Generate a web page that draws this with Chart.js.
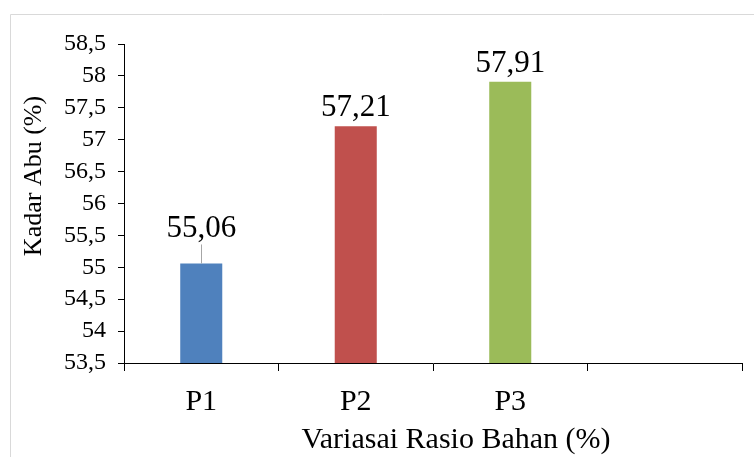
<!DOCTYPE html>
<html>
<head>
<meta charset="utf-8">
<script src="https://cdn.jsdelivr.net/npm/chart.js@4/dist/chart.umd.min.js"></script>
<style>
  html, body { margin: 0; padding: 0; background: #fff; }
  #wrap { position: relative; width: 754px; height: 457px; overflow: hidden; }
  canvas { display: block; }
</style>
</head>
<body>
<div id="wrap"><canvas id="c" width="754" height="457"></canvas></div>
<script>
// Ash content per material-ratio variation
const categories = ['P1', 'P2', 'P3', ''];
const ashContent = [55.06, 57.21, 57.91, null];
const barColors = ['#4F81BD', '#C0504D', '#9BBB59', '#4F81BD'];
const yMin = 53.5, yMax = 58.5, yStep = 0.5;
const xTitle = 'Variasai Rasio Bahan (%)';
const yTitle = 'Kadar Abu (%)';

const SERIF = '"Liberation Serif", "Times New Roman", serif';
const fmt = (v, d) => v.toFixed(d).replace('.', ',');

// value labels above each bar; the first one sits higher with a leader line
const labelLift = [35, 18, 18];

const decorations = {
  id: 'decorations',
  afterDraw(chart) {
    const ctx = chart.ctx;
    const meta = chart.getDatasetMeta(0);
    ctx.save();
    // outer frame
    ctx.strokeStyle = '#d9d9d9';
    ctx.lineWidth = 1;
    ctx.beginPath();
    ctx.moveTo(10.5, 457);
    ctx.lineTo(10.5, 14.5);
    ctx.lineTo(754, 14.5);
    ctx.stroke();

    // data labels
    ctx.fillStyle = '#000';
    ctx.font = '31px ' + SERIF;
    ctx.textAlign = 'center';
    ctx.textBaseline = 'middle';
    meta.data.forEach((bar, i) => {
      const v = ashContent[i];
      if (v == null) return;
      const top = bar.y;
      const cy = top - labelLift[i];
      ctx.fillText(fmt(v, 2), bar.x, cy);
      if (labelLift[i] > 25) {
        ctx.strokeStyle = '#a6a6a6';
        ctx.beginPath();
        ctx.moveTo(Math.round(bar.x) + 0.5, cy + 16);
        ctx.lineTo(Math.round(bar.x) + 0.5, top);
        ctx.stroke();
      }
    });

    // axis titles
    ctx.font = '30px ' + SERIF;
    ctx.fillText(xTitle, 456, 440);
    ctx.font = '26px ' + SERIF;
    ctx.translate(34, 176);
    ctx.rotate(-Math.PI / 2);
    ctx.fillText(yTitle, 0, 0);
    ctx.restore();
  }
};

new Chart(document.getElementById('c'), {
  type: 'bar',
  data: {
    labels: categories,
    datasets: [{
      data: ashContent,
      backgroundColor: barColors,
      borderWidth: 0,
      categoryPercentage: 1,
      barPercentage: 0.272
    }]
  },
  options: {
    responsive: false,
    devicePixelRatio: 1,
    animation: false,
    layout: { padding: { left: 0, top: 44, right: 12, bottom: 0 } },
    plugins: { legend: { display: false }, tooltip: { enabled: false } },
    scales: {
      x: {
        afterFit(s) { s.height = 94; },
        grid: {
          offset: true,
          drawOnChartArea: false,
          drawTicks: true,
          tickLength: 8,
          color: '#000',
          lineWidth: 1
        },
        border: { display: true, color: '#000', width: 1 },
        ticks: {
          color: '#000',
          font: { family: SERIF, size: 30 },
          padding: 13,
          maxRotation: 0
        }
      },
      y: {
        min: yMin,
        max: yMax,
        afterFit(s) { s.width = 124; },
        grid: {
          drawOnChartArea: false,
          drawTicks: true,
          tickLength: 6,
          color: '#000',
          lineWidth: 1
        },
        border: { display: true, color: '#000', width: 1 },
        ticks: {
          stepSize: yStep,
          color: '#000',
          font: { family: SERIF, size: 24 },
          padding: 12,
          callback: (v) => (Number.isInteger(v) ? String(v) : fmt(v, 1))
        }
      }
    }
  },
  plugins: [decorations]
});
</script>
</body>
</html>
